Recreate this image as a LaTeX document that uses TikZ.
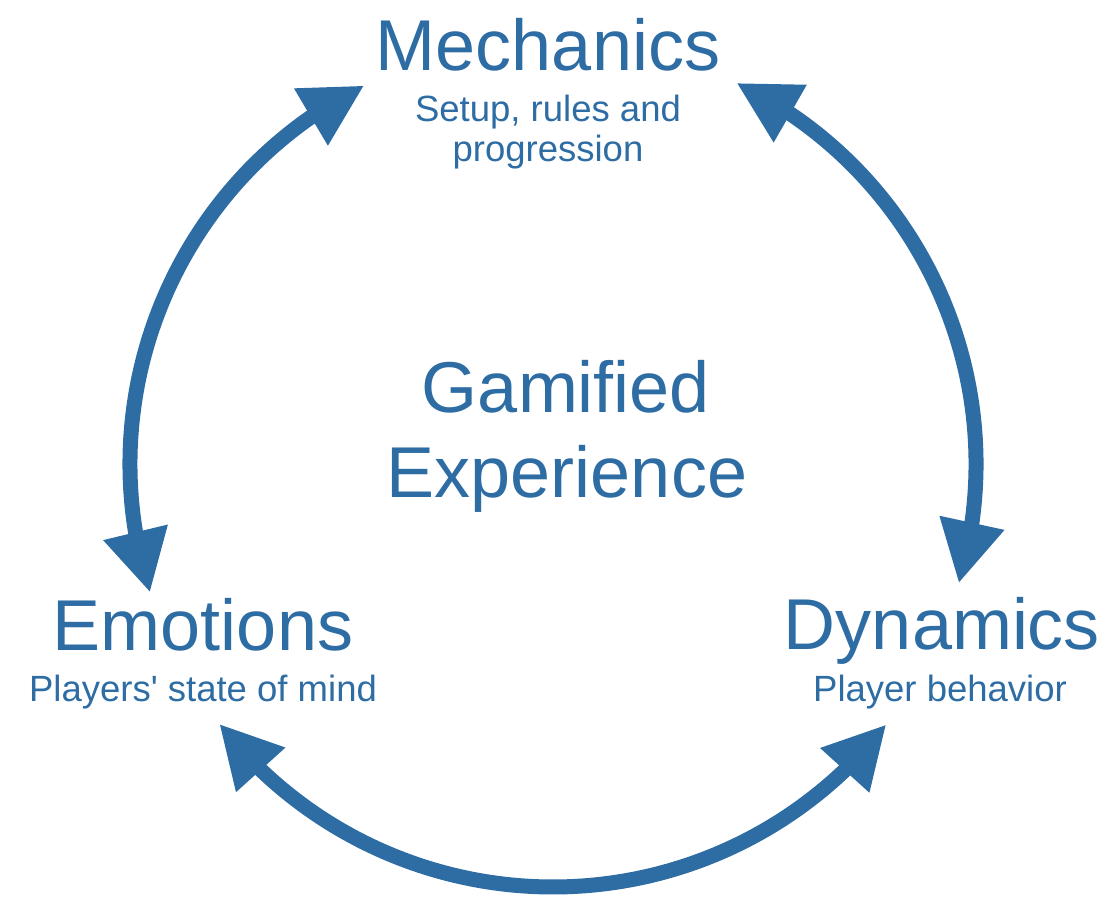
\documentclass[tikz,border=0pt]{standalone}
\usepackage{fontspec}
\newfontfamily\labelfont{Liberation Sans}
\usetikzlibrary{arrows.meta,bending}
\definecolor{mdablue}{RGB}{46,108,164}
\begin{document}
\begin{tikzpicture}[x=1pt,y=1pt,
  conn/.style={draw=mdablue,line width=15pt,
    {Triangle[length=62pt,width=62pt]}-{Triangle[length=62pt,width=62pt]}},
  bigtxt/.style={text=mdablue,inner sep=0pt,anchor=base,font=\labelfont\fontsize{72}{72}\selectfont},
  smalltxt/.style={text=mdablue,inner sep=0pt,anchor=base,font=\labelfont\fontsize{36.5}{36.5}\selectfont}]
\useasboundingbox (0,0) rectangle (1115,901);
\coordinate (O) at (553,437);
\path (O) ++(116.5:423pt) coordinate (tl);
\path (O) ++(64.3:423pt) coordinate (tr);
\path (O) ++(197.7:423pt) coordinate (lb);
\path (O) ++(-16.4:423pt) coordinate (rb);
\path (O) ++(217.9:423pt) coordinate (bl);
\path (O) ++(-38:423pt) coordinate (br);
% texts
\node[bigtxt] (mech) at (548,830) {Mechanics};
\node[smalltxt] (mech1) at (548,779) {Setup, rules and};
\node[smalltxt] (mech2) at (548,739) {progression};
\node[bigtxt] (gam1) at (566,488) {Gamified};
\node[bigtxt] (gam2) at (567,403) {Experience};
\node[bigtxt] (emo) at (203,250) {Emotions};
\node[smalltxt] (emo1) at (203,199) {Players' state of mind};
\node[bigtxt] (dyn) at (942,251) {Dynamics};
\node[smalltxt] (dyn1) at (940,199) {Player behavior};
% connectors
\draw[conn] (lb) arc[start angle=197.7,end angle=116.5,radius=423pt];
\draw[conn] (tr) arc[start angle=64.3,end angle=-16.4,radius=423pt];
\draw[conn] (bl) arc[start angle=217.9,end angle=322,radius=423pt];
\end{tikzpicture}
\end{document}
